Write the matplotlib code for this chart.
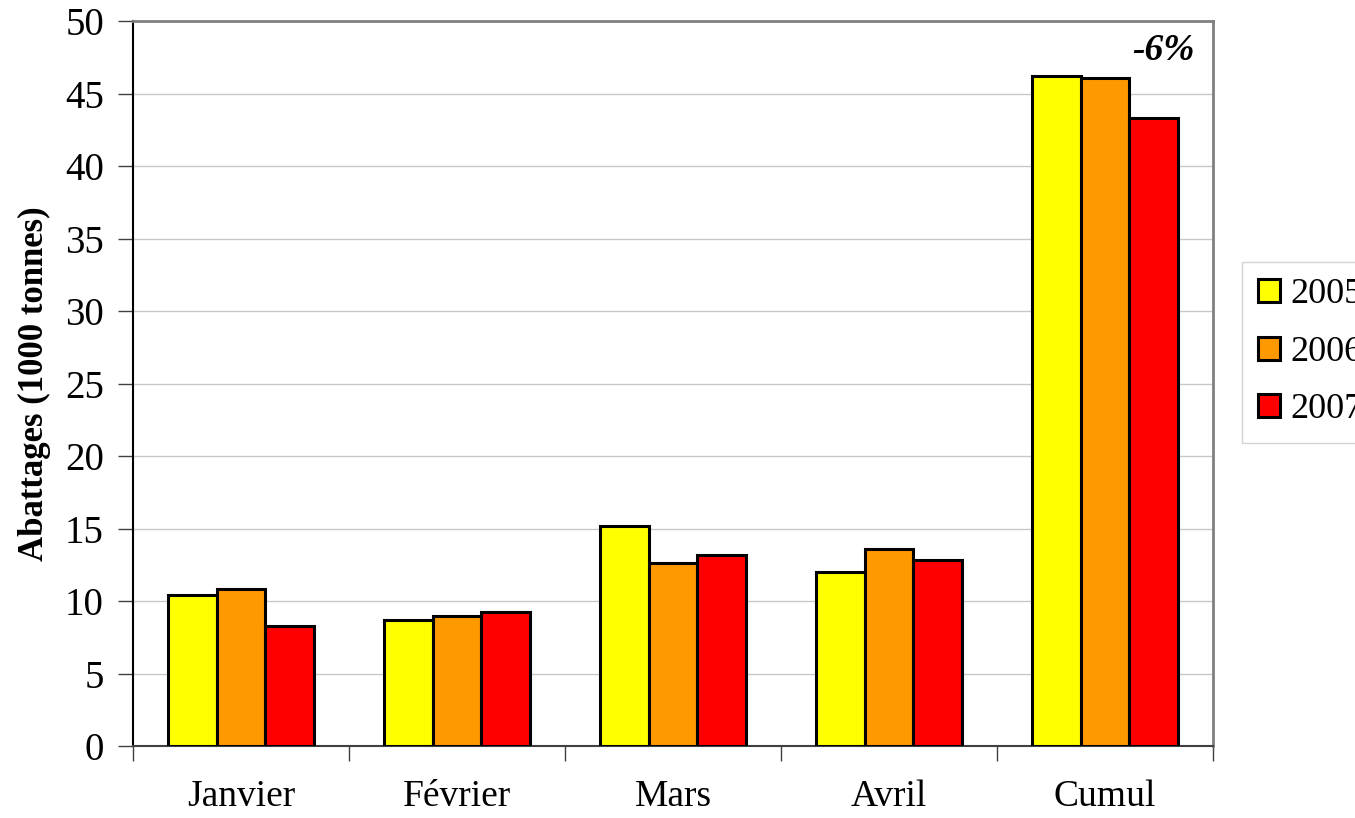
import matplotlib
matplotlib.use("Agg")
import matplotlib.pyplot as plt
import numpy as np

plt.rcParams["font.family"] = ["Liberation Serif", "DejaVu Serif"]

months = ["Janvier", "Février", "Mars", "Avril", "Cumul"]
years = ["2005", "2006", "2007"]
v2005 = [10.4, 8.7, 15.2, 12.0, 46.2]
v2006 = [10.8, 9.0, 12.6, 13.6, 46.1]
v2007 = [8.3, 9.25, 13.2, 12.8, 43.3]
colors = ["#ffff00", "#ff9900", "#ff0000"]
note = "-6%"

fig = plt.figure(figsize=(13.55, 8.18), dpi=100)
ax = fig.add_axes([0.0982, 0.088, 0.797, 0.886])

x = np.arange(len(months))
w = 0.225
for i, (vals, c, lab) in enumerate(zip([v2005, v2006, v2007], colors, years)):
    ax.bar(x + (i - 1) * w, vals, width=w, color=c, edgecolor="black",
           linewidth=2.2, label=lab, zorder=3)

ax.set_xlim(-0.5, 4.5)
ax.set_ylim(0, 50)
ax.set_yticks(np.arange(0, 51, 5))
ax.yaxis.grid(True, color="#c8c8c8", lw=1, zorder=0)
ax.set_axisbelow(True)

ax.set_xticks(x)
ax.set_xticklabels(months)
ax.set_xticks(np.arange(-0.5, 5.0, 1.0), minor=True)
ax.tick_params(axis="x", which="major", length=0, pad=24, labelsize=27)
ax.tick_params(axis="x", which="minor", length=11, width=1, color="#404040", direction="out")
ax.tick_params(axis="y", length=11, width=1, color="#404040", pad=10, labelsize=28)

ax.spines["left"].set_color("black")
ax.spines["bottom"].set_color("#404040")
ax.spines["left"].set_linewidth(1.5)
ax.spines["bottom"].set_linewidth(1.5)
for s in ("top", "right"):
    ax.spines[s].set_color("#808080")
    ax.spines[s].set_linewidth(2)

ax.set_ylabel("Abattages (1000 tonnes)", fontsize=25, fontweight="bold", labelpad=10)

ax.text(4.27, 48.0, note, ha="center", va="center", fontsize=27,
        fontweight="bold", fontstyle="italic")

leg = fig.legend(loc="upper left", bbox_to_anchor=(0.9166, 0.6797), fontsize=26,
                 frameon=True, fancybox=False, handlelength=0.6, handleheight=0.6,
                 handletextpad=0.3, labelspacing=0.68, borderpad=0.45,
                 borderaxespad=0)
leg.get_frame().set_edgecolor("#c8c8c8")
leg.get_frame().set_linewidth(1)

fig.savefig("out.png", dpi=100)
